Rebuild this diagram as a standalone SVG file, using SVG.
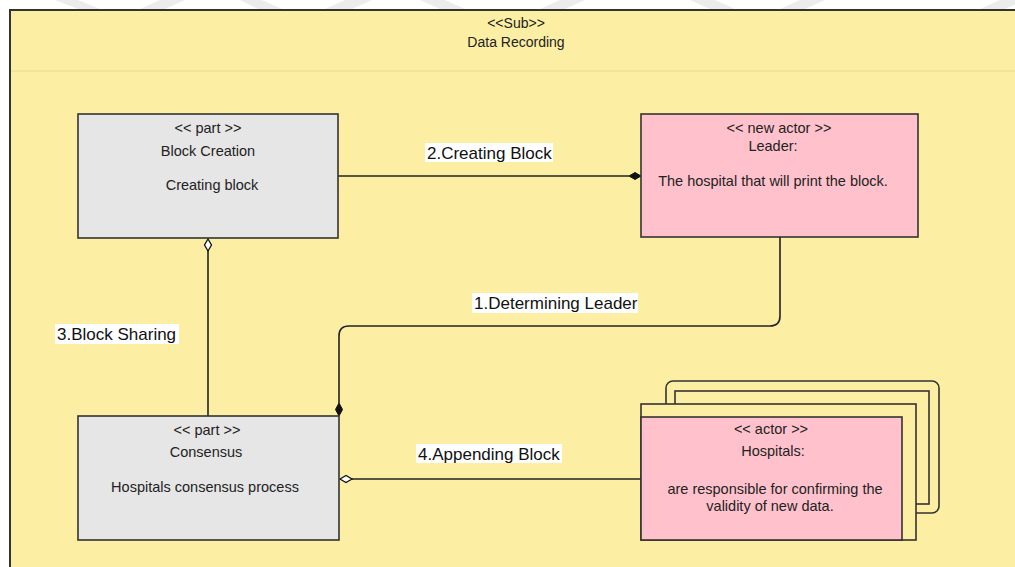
<svg xmlns="http://www.w3.org/2000/svg" width="1015" height="567" viewBox="0 0 1015 567">
  <style>
    .frame { fill: #fcefa4; stroke: #333333; stroke-width: 2; }
    .sep { stroke: #e6d992; stroke-width: 1.2; fill: none; }
    .part { fill: #e6e6e6; stroke: #333333; stroke-width: 1.6; }
    .actor { fill: #ffc2cd; stroke: #333333; stroke-width: 1.6; }
    .stack { fill: #fcefa4; stroke: #333333; stroke-width: 1.6; }
    .wire { fill: none; stroke: #222222; stroke-width: 1.6; }
    .solid { fill: #111111; stroke: #111111; stroke-width: 1; }
    .hollow { fill: #ffffff; stroke: #111111; stroke-width: 1.3; }
    .lblbg { fill: #ffffff; }
    text { font-family: "Liberation Sans", Arial, sans-serif; fill: #222222; text-anchor: middle; }
    .hdr { font-size: 14px; }
    .body { font-size: 14.5px; }
    .lbl { font-size: 17px; text-anchor: start; fill: #111111; }
    .wm { fill: #ececec; }
  </style>

  <!-- faint marks along the top edge -->
  <g id="topmarks">
    <polygon class="wm" points="55,0 78,0 100,9 78,9"/>
    <polygon class="wm" points="160,0 185,0 165,9 140,9"/>
    <polygon class="wm" points="240,0 262,0 282,9 258,9"/>
    <polygon class="wm" points="345,0 372,0 352,9 325,9"/>
    <polygon class="wm" points="420,0 445,0 465,9 440,9"/>
    <polygon class="wm" points="560,0 585,0 565,9 540,9"/>
    <polygon class="wm" points="690,0 715,0 735,9 710,9"/>
    <polygon class="wm" points="800,0 825,0 805,9 780,9"/>
    <polygon class="wm" points="1000,0 1025,0 1005,9 980,9"/>
  </g>

  <!-- subsystem frame -->
  <g id="frame">
    <rect class="frame" x="10" y="10" width="1012" height="570"/>
    <line class="sep" x1="11" y1="71" x2="1015" y2="71"/>
    <text class="hdr" x="516" y="28">&lt;&lt;Sub&gt;&gt;</text>
    <text class="hdr" x="516" y="47">Data Recording</text>
  </g>

  <!-- connectors -->
  <g id="connectors">
    <!-- 2.Creating Block -->
    <line class="wire" x1="338" y1="176" x2="629" y2="176"/>
    <polygon class="solid" points="641,176 635,172.5 629,176 635,179.5"/>
    <rect class="lblbg" x="425" y="143" width="128" height="19"/>
    <text class="lbl" x="427" y="159">2.Creating Block</text>

    <!-- 1.Determining Leader -->
    <path class="wire" d="M780,237 V316 Q780,326 770,326 H349 Q339,326 339,336 V403"/>
    <polygon class="solid" points="339,416 335.5,409.5 339,403 342.5,409.5"/>
    <rect class="lblbg" x="472" y="293" width="166" height="20"/>
    <text class="lbl" x="474" y="309">1.Determining Leader</text>

    <!-- 3.Block Sharing -->
    <line class="wire" x1="208" y1="251" x2="208" y2="416"/>
    <polygon class="hollow" points="208,239 211.5,245 208,251 204.5,245"/>
    <rect class="lblbg" x="55" y="324" width="124" height="20"/>
    <text class="lbl" x="57" y="340">3.Block Sharing</text>

    <!-- 4.Appending Block -->
    <line class="wire" x1="352" y1="479" x2="641" y2="479"/>
    <polygon class="hollow" points="340,479 346,475.5 352,479 346,482.5"/>
    <rect class="lblbg" x="416" y="444" width="146" height="19"/>
    <text class="lbl" x="418" y="460">4.Appending Block</text>
  </g>

  <!-- part: Block Creation -->
  <g id="block-creation">
    <rect class="part" x="78" y="114" width="260" height="124"/>
    <text class="body" x="208" y="133">&lt;&lt; part &gt;&gt;</text>
    <text class="body" x="208" y="156">Block Creation</text>
    <text class="body" x="212" y="190">Creating block</text>
  </g>

  <!-- actor: Leader -->
  <g id="leader">
    <rect class="actor" x="641" y="114" width="277" height="123"/>
    <text class="body" x="779" y="133">&lt;&lt; new actor &gt;&gt;</text>
    <text class="body" x="773" y="151">Leader:</text>
    <text class="body" x="773" y="186">The hospital that will print the block.</text>
  </g>

  <!-- part: Consensus -->
  <g id="consensus">
    <rect class="part" x="78" y="416" width="261" height="124"/>
    <text class="body" x="207" y="435">&lt;&lt; part &gt;&gt;</text>
    <text class="body" x="206" y="457">Consensus</text>
    <text class="body" x="205" y="492">Hospitals consensus process</text>
  </g>

  <!-- actor: Hospitals (multiple instances) -->
  <g id="hospitals">
    <rect class="stack" x="666" y="381" width="273" height="132" rx="7"/>
    <rect class="stack" x="675" y="391" width="254" height="113"/>
    <rect class="stack" x="641" y="404" width="275" height="136"/>
    <rect class="actor" x="641" y="417" width="261" height="123"/>
    <text class="body" x="771" y="434">&lt;&lt; actor &gt;&gt;</text>
    <text class="body" x="773" y="456">Hospitals:</text>
    <text class="body" x="775" y="494">are responsible for confirming the</text>
    <text class="body" x="770" y="511">validity of new data.</text>
  </g>
</svg>
